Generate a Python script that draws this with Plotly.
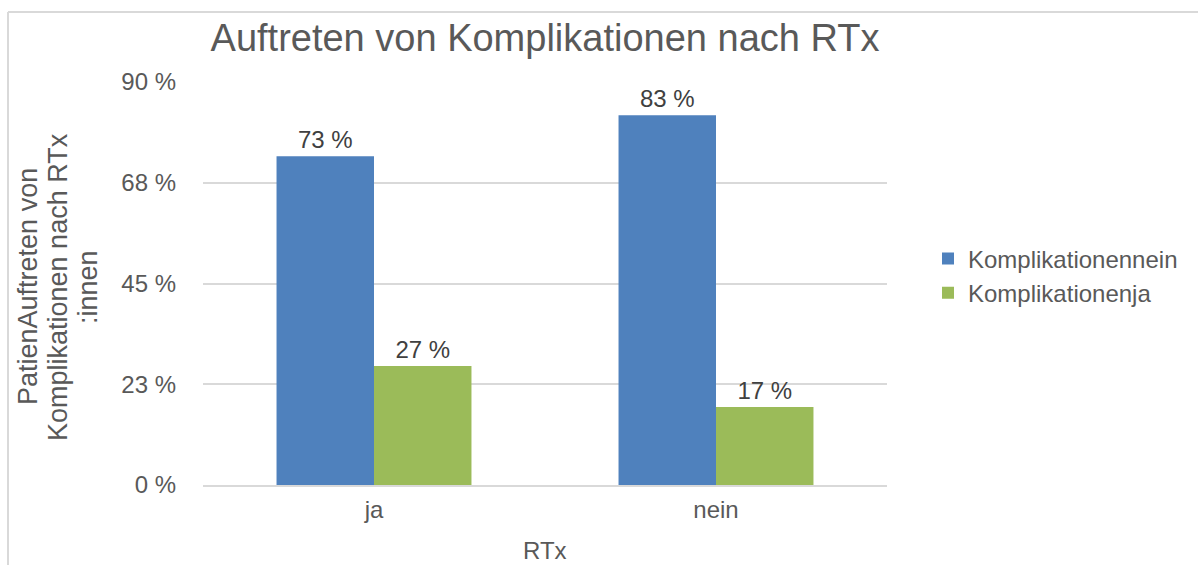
import plotly.graph_objects as go

categories = ["ja", "nein"]
series_names = ["Komplikationennein", "Komplikationenja"]
vals_nein = [73.4, 82.6]
vals_ja = [26.6, 17.4]
tick_vals = [0, 22.5, 45, 67.5, 90]
tick_text = ["0 %", "23 %", "45 %", "68 %", "90 %"]
colors = ["#4f81bd", "#9bbb59"]
y_title_lines = ["PatienAuftreten von", "Komplikationen nach RTx", ":innen"]

W, H = 1198, 565
L, R, T, B = 203, 887, 82, 485  # plot area in px
pw, ph = R - L, B - T

def px(x):
    return (x - L) / pw

def py(y):
    return (B - y) / ph

FONT = "Liberation Sans, Arial, Helvetica, sans-serif"
FS = 24

fig = go.Figure()
for name, vals, col in zip(series_names, [vals_nein, vals_ja], colors):
    fig.add_trace(go.Bar(
        x=categories, y=vals, name=name, marker=dict(color=col, line=dict(width=0)),
        texttemplate="%{y:.0f} %", textposition="outside", cliponaxis=False,
        textfont=dict(size=FS, color="#404040", family=FONT),
    ))

fig.update_layout(
    width=W, height=H,
    margin=dict(l=L, r=W - R, t=T, b=H - B, autoexpand=False),
    paper_bgcolor="white", plot_bgcolor="white",
    barmode="group", bargap=0.43, bargroupgap=0,
    font=dict(family=FONT, color="#595959", size=FS),
    title=dict(text="Auftreten von Komplikationen nach RTx", x=545 / W, xanchor="center",
               y=1 - 38 / H, yanchor="middle",
               font=dict(size=38, color="#595959", family=FONT)),
    legend=dict(x=px(928), xanchor="left", y=py(276), yanchor="middle",
                font=dict(size=FS, color="#595959", family=FONT),
                bgcolor="rgba(0,0,0,0)", tracegroupgap=0),
    xaxis=dict(showgrid=False, showline=True, linecolor="#d9d9d9", linewidth=2,
               ticks="", tickfont=dict(size=FS, color="#595959"), ticklabelstandoff=2,
               automargin=False),
    yaxis=dict(range=[0, 90], tickvals=tick_vals, ticktext=tick_text,
               showgrid=True, gridcolor="#d9d9d9", gridwidth=2, zeroline=False,
               showline=False, ticks="", ticklabelstandoff=26,
               tickfont=dict(size=FS, color="#595959"), automargin=False),
    showlegend=True,
)

# y-axis title (three lines, rotated) and x-axis title
for i, line in enumerate(y_title_lines):
    fig.add_annotation(text=line, xref="paper", yref="paper", x=px(28 + 30 * i), y=py(287),
                       xanchor="center", yanchor="middle", textangle=-90, showarrow=False,
                       font=dict(size=27, color="#595959", family=FONT))
fig.add_annotation(text="RTx", xref="paper", yref="paper", x=px(545), y=py(550),
                   xanchor="center", yanchor="middle", showarrow=False,
                   font=dict(size=FS, color="#595959", family=FONT))

# outer chart frame
fig.add_shape(type="line", xref="paper", yref="paper", x0=px(8), x1=px(1200), y0=py(12), y1=py(12),
              line=dict(color="#d9d9d9", width=2))
fig.add_shape(type="line", xref="paper", yref="paper", x0=px(8), x1=px(8), y0=py(12), y1=py(570),
              line=dict(color="#d9d9d9", width=2))

fig.write_html("out.html", config={"displayModeBar": False},
               post_script="document.body.style.margin='0';document.body.style.overflow='hidden';")
